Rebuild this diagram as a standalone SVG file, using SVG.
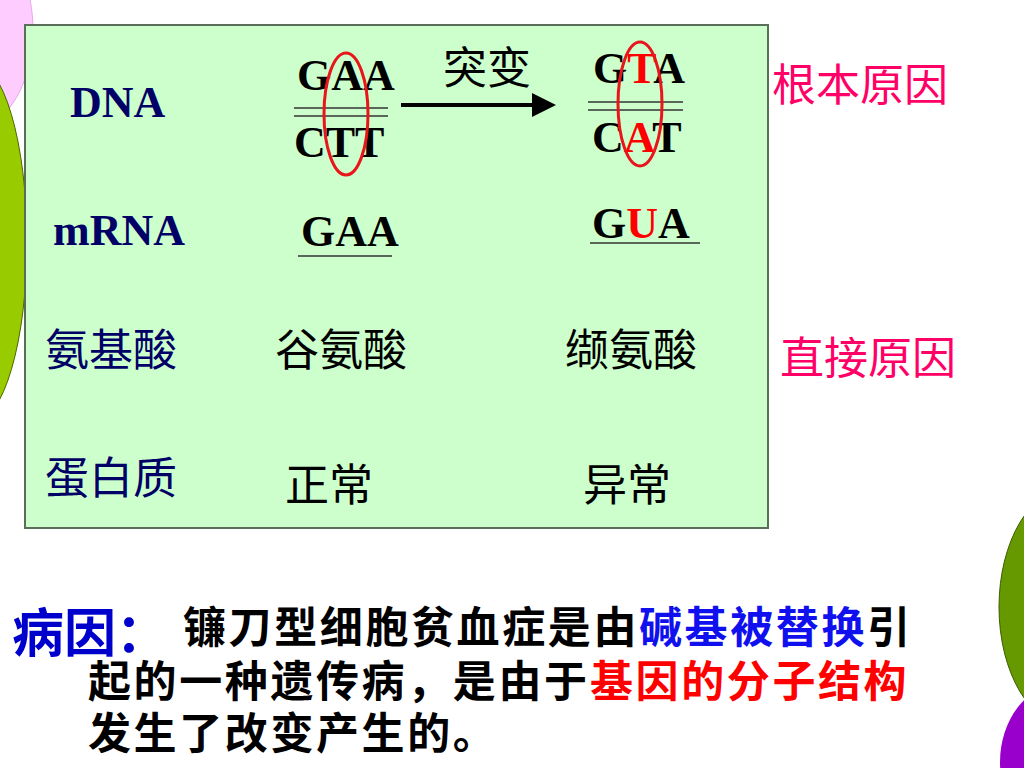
<svg xmlns="http://www.w3.org/2000/svg" width="1024" height="768" viewBox="0 0 1024 768">
<defs>
<marker id="arr" markerWidth="6" markerHeight="6" refX="5" refY="3" orient="auto" markerUnits="strokeWidth">
<path d="M0,0 L6,3 L0,6 z" fill="#000"/>
</marker>
</defs>
<style>
.lat{font-family:"Liberation Serif","Times New Roman",serif;font-weight:bold;font-size:44px;fill:#000}
.lab{font-family:"Liberation Serif","Times New Roman",serif;font-weight:bold;font-size:44px;fill:#000066}
.cn{font-family:"Noto Sans CJK SC","Noto Sans",sans-serif;font-size:44px;fill:#000}
.cnl{font-family:"Noto Sans CJK SC","Noto Sans",sans-serif;font-size:44px;fill:#000066}
.pink{font-family:"Noto Sans CJK SC","Noto Sans",sans-serif;font-size:44px;fill:#ff0066}
.body{font-family:"Liberation Sans","Noto Sans CJK SC",sans-serif;font-weight:bold;font-size:43px;fill:#000;letter-spacing:2.6px}
.red{fill:#ff0000}
.blue{fill:#1010ee}
.ring{fill:none;stroke:#e8161a;stroke-width:3}
.ln{stroke:#333;stroke-width:1.5}
</style>
<rect width="1024" height="768" fill="#fff"/>
<g id="decor">
<ellipse cx="-30" cy="30" rx="63" ry="100" fill="#ffccff" stroke="#e6a8e6" stroke-width="1"/>
<ellipse cx="-26" cy="242" rx="53" ry="180" fill="#99cc00" stroke="#4d6600" stroke-width="1"/>
<ellipse cx="1062" cy="762" rx="62" ry="78" fill="#9900cc"/>
<ellipse cx="1071" cy="607" rx="72" ry="120" fill="#669900" stroke="#3d5c00" stroke-width="1"/>
</g>
<g id="box">
<rect x="25" y="25" width="743" height="503" fill="#ccffcc" stroke="#5a6e5a" stroke-width="2"/>
</g>
<g id="row-labels">
<text class="lab" x="70" y="117">DNA</text>
<text class="lab" x="53" y="245">mRNA</text>
<text class="cnl" x="45" y="366">氨基酸</text>
<text class="cnl" x="45" y="494">蛋白质</text>
</g>
<g id="normal">
<text class="lat" x="297" y="90">GAA</text>
<line class="ln" x1="294" y1="108" x2="388" y2="108"/>
<line class="ln" x1="294" y1="116" x2="388" y2="116"/>
<text class="lat" x="294" y="157">CTT</text>
<ellipse class="ring" cx="346" cy="114" rx="22" ry="61"/>
<text class="lat" x="301" y="246">GAA</text>
<line class="ln" x1="298" y1="256" x2="392" y2="256"/>
<text class="cn" x="275" y="366">谷氨酸</text>
<text class="cn" x="285" y="501">正常</text>
</g>
<g id="connectors">
<line x1="401" y1="105" x2="552" y2="105" stroke="#000" stroke-width="4" marker-end="url(#arr)"/>
<text class="cn" x="443" y="84">突变</text>
</g>
<g id="mutant">
<text class="lat" x="593" y="83">G<tspan class="red">T</tspan>A</text>
<line class="ln" x1="588" y1="102" x2="683" y2="102"/>
<line class="ln" x1="588" y1="110" x2="683" y2="110"/>
<text class="lat" x="592" y="152">C<tspan class="red">A</tspan>T</text>
<ellipse class="ring" cx="640" cy="104" rx="22" ry="62"/>
<text class="lat" x="592" y="238">G<tspan class="red">U</tspan>A</text>
<line class="ln" x1="590" y1="243" x2="700" y2="243"/>
<text class="cn" x="565" y="366">缬氨酸</text>
<text class="cn" x="583" y="501">异常</text>
</g>
<g id="causes">
<text class="pink" x="772" y="101">根本原因</text>
<text class="pink" x="780" y="374">直接原因</text>
</g>
<g id="reason">
<text x="12" y="652" font-family="'Liberation Sans','Noto Sans CJK SC',sans-serif" font-weight="bold" font-size="52" fill="#0000cc">病因：</text>
<text class="body" x="183" y="643">镰刀型细胞贫血症是由</text>
<text class="body blue" x="639" y="643">碱基被替换</text>
<text class="body" x="867" y="643">引</text>
<text class="body" x="88" y="697">起的一种遗传病，是由于</text>
<text class="body red" x="590" y="697">基因的分子结构</text>
<text class="body" x="88" y="749">发生了改变产生的。</text>
</g>
</svg>
